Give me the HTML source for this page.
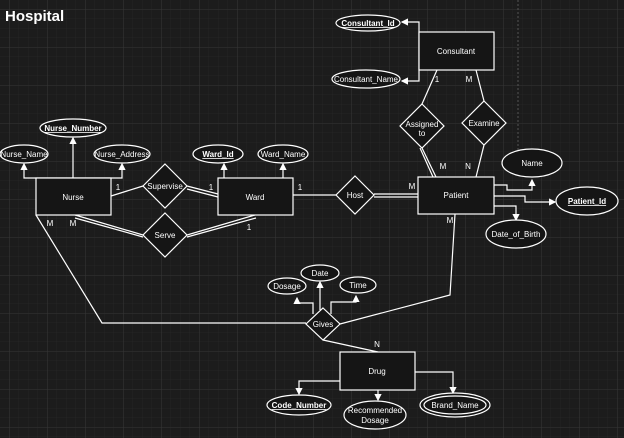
<!DOCTYPE html>
<html><head><meta charset="utf-8"><style>
html,body{margin:0;padding:0;background:#1c1c1c;}
svg{display:block;}
text{font-family:"Liberation Sans",Arial,sans-serif;fill:#fff;font-size:8px;text-anchor:middle;}
.u{text-decoration:underline;font-weight:bold;}
</style></head><body>
<svg width="624" height="438" viewBox="0 0 624 438" xmlns="http://www.w3.org/2000/svg">
<defs>
<pattern id="g" width="9.5" height="9.5" patternUnits="userSpaceOnUse"><path d="M9.5 0V9.5H0" fill="none" stroke="#2a2a2a" stroke-width="0.6"/></pattern>
<pattern id="G" width="38" height="38" patternUnits="userSpaceOnUse" x="10" y="10"><path d="M38 0V38H0" fill="none" stroke="#353535" stroke-width="0.8"/></pattern>
<marker id="a" markerWidth="6" markerHeight="6" refX="5" refY="3" orient="auto"><path d="M0,0L6,3L0,6z" fill="#fff"/></marker>
</defs>
<rect width="624" height="438" fill="#1c1c1c"/>
<rect width="624" height="438" fill="url(#g)"/>
<rect width="624" height="438" fill="url(#G)"/>
<line x1="518" y1="0" x2="518" y2="150" stroke="#555" stroke-dasharray="2,2"/>
<text x="5" y="21" style="font-size:15px;font-weight:bold;text-anchor:start">Hospital</text>

<g stroke="#fff" stroke-width="1.2" fill="none">
<path d="M73 178V138" marker-end="url(#a)"/>
<path d="M73 178H24V164" marker-end="url(#a)"/>
<path d="M73 178H122V164" marker-end="url(#a)"/>
<path d="M224 178V164" marker-end="url(#a)"/>
<path d="M283 178V164" marker-end="url(#a)"/>
<path d="M111 196L143 186"/>
<path d="M187 186L218 194M187 189L218 197"/>
<path d="M75 215L143 235M75 218L143 237"/>
<path d="M187 235L255 215M187 237L256 218"/>
<path d="M293 195H336"/>
<path d="M374 194H418M374 197H418"/>
<path d="M419 51V22H402" marker-end="url(#a)"/>
<path d="M419 51V81H402" marker-end="url(#a)"/>
<path d="M437 70L422 104"/>
<path d="M422 148L436 177M420 148L433 177"/>
<path d="M476 70L484 101"/>
<path d="M484 145L476 177"/>
<path d="M494 185H507V190H532V180" marker-end="url(#a)"/>
<path d="M494 196H525V202H555" marker-end="url(#a)"/>
<path d="M494 206H516V220" marker-end="url(#a)"/>
<path d="M36 215L102 323H306"/>
<path d="M455 214L450 295L340 324"/>
<path d="M313 314V303H297V298" marker-end="url(#a)"/>
<path d="M320 310V282" marker-end="url(#a)"/>
<path d="M331 314V302H356V296" marker-end="url(#a)"/>
<path d="M323 340L378 352"/>
<path d="M340 381H299V394" marker-end="url(#a)"/>
<path d="M378 390V400" marker-end="url(#a)"/>
<path d="M415 372H453V393" marker-end="url(#a)"/>
</g>

<g stroke="#fff" stroke-width="1.2" fill="#151515">
<rect x="36" y="178" width="75" height="37"/>
<rect x="218" y="178" width="75" height="37"/>
<rect x="419" y="32" width="75" height="38"/>
<rect x="418" y="177" width="76" height="37"/>
<rect x="340" y="352" width="75" height="38"/>
<ellipse cx="73" cy="128" rx="33" ry="9"/>
<ellipse cx="24" cy="154" rx="24" ry="9"/>
<ellipse cx="122" cy="154" rx="28" ry="9"/>
<ellipse cx="218" cy="154" rx="25" ry="9"/>
<ellipse cx="283" cy="154" rx="25" ry="9"/>
<ellipse cx="368" cy="23" rx="32" ry="8"/>
<ellipse cx="366" cy="79" rx="34" ry="9"/>
<ellipse cx="532" cy="163" rx="30" ry="14"/>
<ellipse cx="587" cy="201" rx="31" ry="14"/>
<ellipse cx="516" cy="234" rx="30" ry="14"/>
<ellipse cx="320" cy="273" rx="19" ry="8"/>
<ellipse cx="287" cy="286" rx="19" ry="8"/>
<ellipse cx="358" cy="285" rx="18" ry="8"/>
<ellipse cx="299" cy="405" rx="32" ry="10"/>
<ellipse cx="375" cy="415" rx="31" ry="14"/>
<ellipse cx="455" cy="405" rx="35" ry="12"/>
<ellipse cx="455" cy="405" rx="31" ry="9"/>
<path d="M165 164L187 186L165 208L143 186Z"/>
<path d="M165 213L187 235L165 257L143 235Z"/>
<path d="M355 176L374 195L355 214L336 195Z"/>
<path d="M422 104L444 126L422 148L400 126Z"/>
<path d="M484 101L506 123L484 145L462 123Z"/>
<path d="M323 308L340 324L323 340L306 324Z"/>
</g>

<text x="73" y="200">Nurse</text>
<text x="255" y="200">Ward</text>
<text x="456" y="54">Consultant</text>
<text x="456" y="198">Patient</text>
<text x="377" y="374">Drug</text>
<text x="73" y="131" class="u">Nurse_Number</text>
<text x="24" y="157">Nurse_Name</text>
<text x="122" y="157">Nurse_Address</text>
<text x="218" y="157" class="u">Ward_Id</text>
<text x="283" y="157">Ward_Name</text>
<text x="368" y="26" class="u">Consultant_Id</text>
<text x="366" y="82">Consultant_Name</text>
<text x="532" y="166">Name</text>
<text x="587" y="204" class="u">Patient_Id</text>
<text x="516" y="237">Date_of_Birth</text>
<text x="320" y="276">Date</text>
<text x="287" y="289">Dosage</text>
<text x="358" y="288">Time</text>
<text x="299" y="408" class="u">Code_Number</text>
<text x="375" y="413">Recommended</text>
<text x="375" y="423">Dosage</text>
<text x="455" y="408">Brand_Name</text>
<text x="165" y="189">Supervise</text>
<text x="165" y="238">Serve</text>
<text x="355" y="198">Host</text>
<text x="422" y="127">Assigned</text>
<text x="422" y="136">to</text>
<text x="484" y="126">Examine</text>
<text x="323" y="327">Gives</text>
<text x="118" y="190">1</text>
<text x="211" y="190">1</text>
<text x="300" y="190">1</text>
<text x="50" y="226">M</text>
<text x="73" y="226">M</text>
<text x="249" y="230">1</text>
<text x="412" y="189">M</text>
<text x="437" y="82">1</text>
<text x="469" y="82">M</text>
<text x="443" y="169">M</text>
<text x="468" y="169">N</text>
<text x="450" y="223">M</text>
<text x="377" y="347">N</text>
</svg>
</body></html>
